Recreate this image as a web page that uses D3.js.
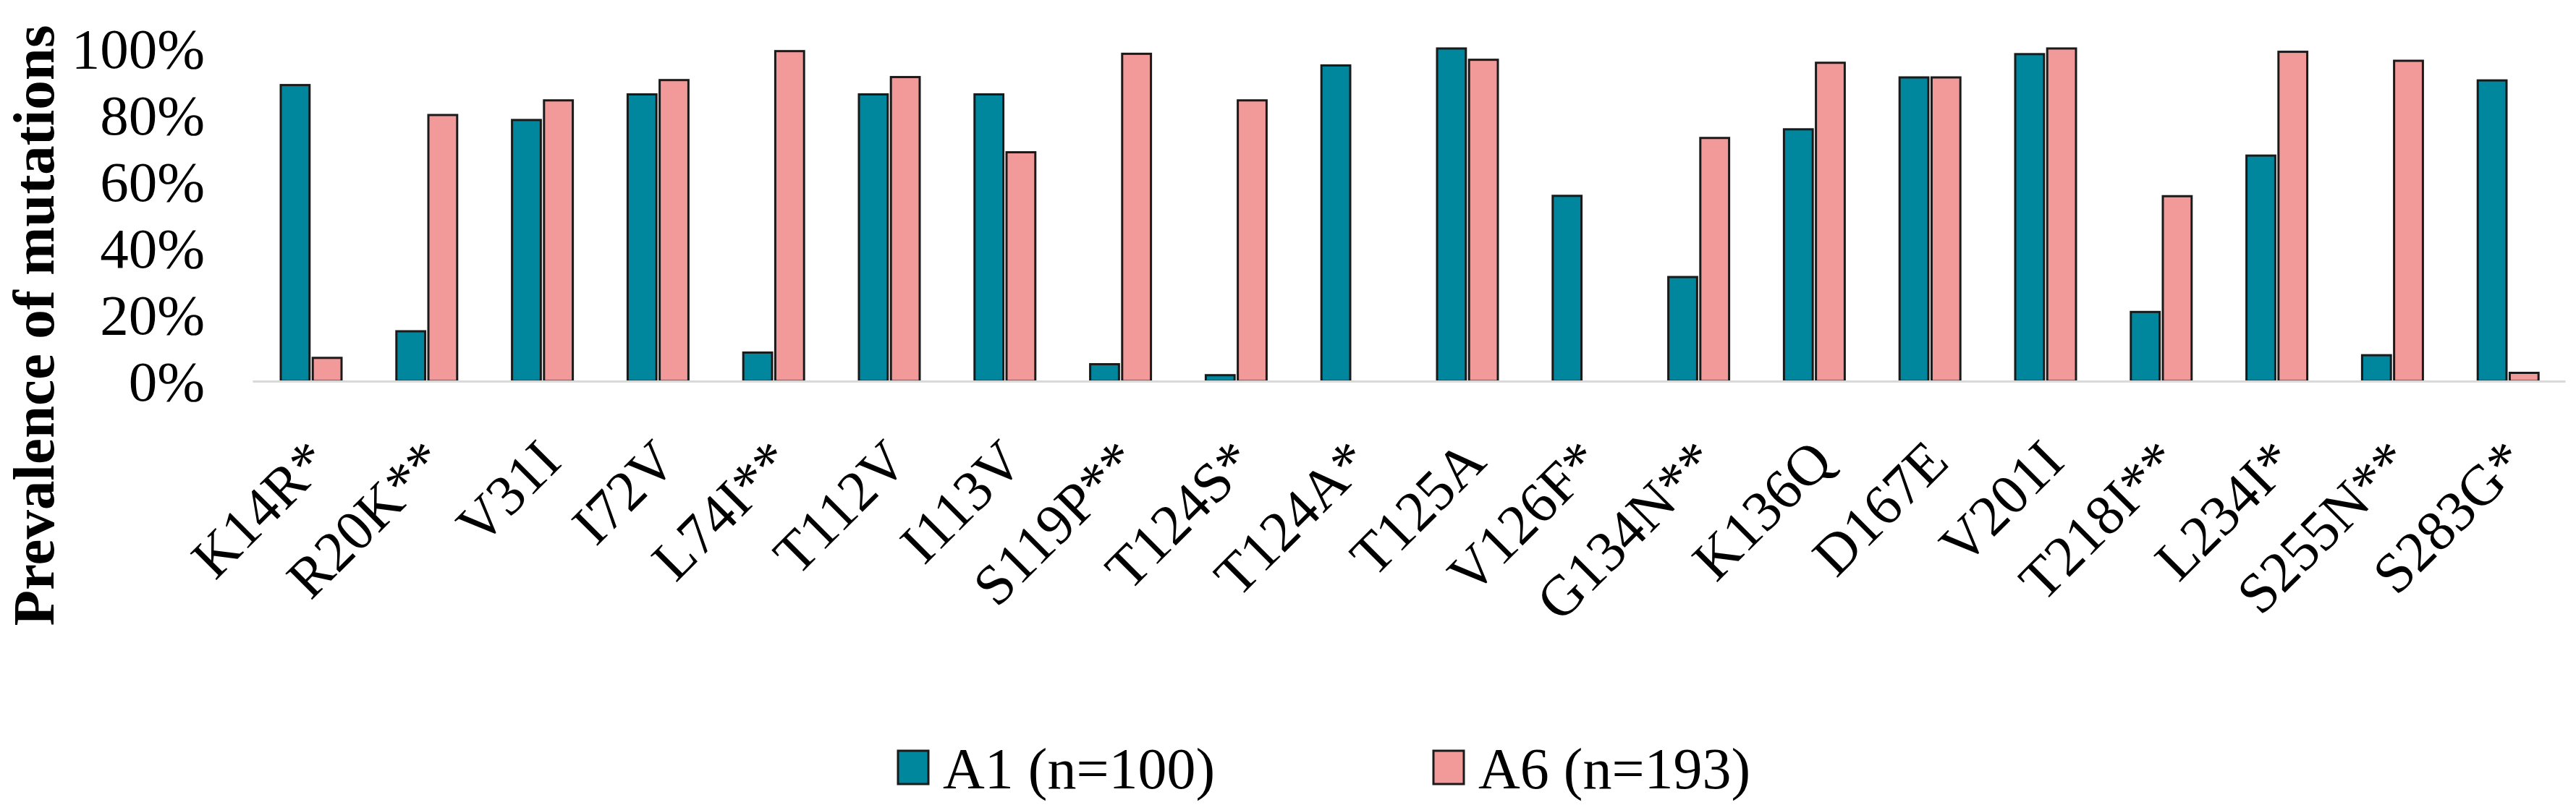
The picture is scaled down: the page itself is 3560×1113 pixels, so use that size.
<!DOCTYPE html>
<html>
<head>
<meta charset="utf-8">
<script src="https://cdn.jsdelivr.net/npm/d3@7"></script>
<style>
  body { margin: 0; background: #fff; }
  text { font-family: "Liberation Serif", "Times New Roman", serif; fill: #000; }
</style>
</head>
<body>
<div id="chart-area"></div>
<script>
let mutations = ["K14R*", "R20K**", "V31I", "I72V", "L74I**", "T112V", "I113V", "S119P**", "T124S*", "T124A*",
  "T125A", "V126F*", "G134N**", "K136Q", "D167E", "V201I", "T218I**", "L234I*", "S255N**", "S283G*"];
let seriesNames = ["A1 (n=100)", "A6 (n=193)"];
let a1 = [89, 15, 78.5, 86.2, 8.6, 86.2, 86.2, 5.1, 1.8, 94.9, 100, 55.7, 31.3, 75.7, 91.3, 98.3, 20.8, 67.8, 7.8, 90.4];
let a6 = [7, 80, 84.4, 90.5, 99.2, 91.4, 68.8, 98.4, 84.4, 0, 96.6, 0, 73.1, 95.7, 91.3, 100, 55.6, 99, 96.3, 2.5];
let yTicks = [0, 20, 40, 60, 80, 100];
let colors = ["#00879e", "#f29a9a"];

let width = 3560, height = 1113;

let svg = d3.select("#chart-area").append("svg")
  .attr("width", width)
  .attr("height", height);

let data = mutations.map((m, i) => ({ name: m, values: [a1[i], a6[i]] }));

let x = d3.scaleBand()
  .domain(mutations)
  .range([349, 3545]);

let xInner = d3.scaleBand()
  .domain([0, 1])
  .range([39, 123])
  .paddingInner(0.1);

let y = d3.scaleLinear()
  .domain([0, 100])
  .range([527, 67]);

// y tick labels (no axis line)
let yAxis = svg.append("g")
  .attr("transform", "translate(283,0)")
  .call(d3.axisLeft(y).tickValues(yTicks).tickSize(0).tickPadding(0).tickFormat(d => d + "%"));
yAxis.select(".domain").remove();
yAxis.selectAll("text")
  .attr("font-size", 79)
  .attr("font-family", null)
  .attr("dy", "0.34em");

svg.append("text")
  .attr("transform", "translate(74,450) rotate(-90)")
  .attr("text-anchor", "middle")
  .attr("font-size", 81)
  .attr("font-weight", "bold")
  .text("Prevalence of mutations");

// bars
let groups = svg.selectAll(".cat").data(data).enter()
  .append("g")
  .attr("class", "cat")
  .attr("transform", d => "translate(" + x(d.name) + ",0)");

groups.selectAll("rect")
  .data(d => d.values)
  .enter()
  .append("rect")
  .attr("x", (d, i) => xInner(i))
  .attr("y", d => y(d))
  .attr("width", xInner.bandwidth())
  .attr("height", d => y(0) - y(d))
  .attr("fill", (d, i) => colors[i])
  .attr("stroke", "#1a1a1a")
  .attr("stroke-width", d => d > 0 ? 3 : 0);

// x baseline
let xAxis = svg.append("g")
  .attr("transform", "translate(0," + y(0) + ")")
  .call(d3.axisBottom(x).tickSize(0).tickFormat(""));
xAxis.select(".domain")
  .attr("stroke", "#d9d9d9")
  .attr("stroke-width", 3);

// rotated category labels
svg.selectAll(".xlab").data(mutations).enter()
  .append("text")
  .attr("class", "xlab")
  .attr("text-anchor", "end")
  .attr("font-size", 79)
  .attr("transform", d => "translate(" + (x(d) + x.bandwidth() / 2 + 30) + ",642) rotate(-45)")
  .text(d => d);

// legend
let legendX = [1241, 1981];
let legend = svg.selectAll(".legend").data(seriesNames).enter()
  .append("g")
  .attr("class", "legend")
  .attr("transform", (d, i) => "translate(" + legendX[i] + ",1038)");

legend.append("rect")
  .attr("width", 42)
  .attr("height", 46)
  .attr("fill", (d, i) => colors[i])
  .attr("stroke", "#1a1a1a")
  .attr("stroke-width", 3);

legend.append("text")
  .attr("x", 62)
  .attr("y", 52)
  .attr("font-size", 80)
  .text(d => d);
</script>
</body>
</html>
